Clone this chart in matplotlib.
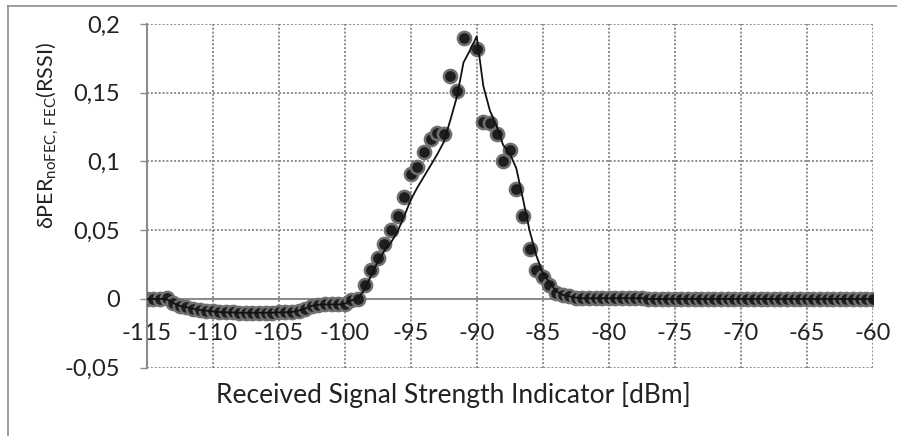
import numpy as np
import matplotlib
matplotlib.use("Agg")
import matplotlib.pyplot as plt
from matplotlib.lines import Line2D

plt.rcParams['font.family'] = ['Lato', 'DejaVu Sans']

# measured points, 0.5 dBm steps from -115 to -60
rssi = np.arange(-115, -59.99, 0.5)
dper = [0.0, 0.0, 0.0, 0.0005, -0.003, -0.005, -0.006, -0.007, -0.008, -0.0085,
        -0.009, -0.0095, -0.0097, -0.0098, -0.01, -0.01, -0.01, -0.01, -0.01, -0.01,
        -0.0098, -0.0097, -0.0095, -0.0085, -0.007, -0.005, -0.0042, -0.004, -0.004, -0.004,
        -0.0035, -0.001,
        0.0, 0.010, 0.021, 0.030, 0.040, 0.050, 0.060, 0.074, 0.091, 0.096,
        0.107, 0.116, 0.121, 0.120, 0.162, 0.151, 0.190, np.nan, 0.182, 0.129,
        0.128, 0.120, 0.100, 0.108, 0.080, 0.060, 0.036, 0.021, 0.016, 0.010,
        0.004, 0.003, 0.002, 0.001] + [0.0005] * 10 + [0.0] * 35

# smoothed trend line, same x grid
trend = [0.0, 0.0, 0.0, 0.0, -0.003, -0.005, -0.006, -0.007, -0.008, -0.0085,
         -0.009, -0.0095, -0.0097, -0.0098, -0.01, -0.01, -0.01, -0.01, -0.01, -0.01,
         -0.0098, -0.0097, -0.0095, -0.0085, -0.007, -0.005, -0.0042, -0.004, -0.004, -0.004,
         -0.0035, -0.001,
         0.0, 0.007, 0.017, 0.027, 0.035, 0.041, 0.049, 0.060, 0.072, 0.081,
         0.089, 0.097, 0.105, 0.114, 0.130, 0.147, 0.172, 0.181, 0.191, 0.155,
         0.137, 0.126, 0.112, 0.106, 0.095, 0.073, 0.050, 0.032, 0.019, 0.012,
         0.006, 0.003, 0.002, 0.001] + [0.0005] * 10 + [0.0] * 35

xticks = list(range(-115, -59, 5))
yticks = [-0.05, 0, 0.05, 0.1, 0.15, 0.2]
ytick_labels = ['-0,05', '0', '0,05', '0,1', '0,15', '0,2']

fig = plt.figure(figsize=(8.97, 4.36), dpi=100)
ax = fig.add_axes([146.7 / 897, 1 - 367.7 / 436, (872.7 - 146.7) / 897, (367.7 - 24) / 436])

ax.plot(rssi, dper, 'o', ms=9.5, mfc='#1e1e1e', mec='#707070', mew=1.8, zorder=3)
ax.plot(rssi, trend, '-', color='#111111', lw=1.3, zorder=4)

ax.set_xlim(-115, -60)
ax.set_ylim(-0.05, 0.2)
ax.set_xticks(xticks)
ax.set_xticklabels([str(t) for t in xticks])
ax.set_yticks(yticks)
ax.set_yticklabels(ytick_labels)

ax.grid(True, color='#8c8c8c', linestyle=(0, (1, 1)), linewidth=1.4)
ax.set_axisbelow(True)
for s in ['top', 'right']:
    ax.spines[s].set_visible(False)
ax.spines['bottom'].set_position(('data', 0))
ax.spines['left'].set_color('#8c8c8c')
ax.spines['bottom'].set_color('#8c8c8c')
ax.spines['left'].set_linewidth(1.5)
ax.spines['bottom'].set_linewidth(1.5)

ax.tick_params(axis='y', direction='out', length=5, width=1, color='#8c8c8c', pad=14,
               labelsize=17, labelcolor='#222222')
ax.tick_params(axis='x', direction='out', length=0, pad=17,
               labelsize=17, labelcolor='#222222')

ax.set_xlabel('Received Signal Strength Indicator [dBm]', fontsize=19, color='#222222', va='center')
ax.xaxis.set_label_coords(0.4226, -0.079)
ax.set_ylabel(r'δPER$_{\mathregular{noFEC,\,FEC}}$(RSSI)', fontsize=15.5, color='#222222', va='center')
ax.yaxis.set_label_coords(-0.136, 0.677)

# outer chart border (top and left)
fig.add_artist(Line2D([8 / 897, 1], [1 - 6 / 436, 1 - 6 / 436], color='#8c8c8c', lw=1.2))
fig.add_artist(Line2D([8 / 897, 8 / 897], [0, 1 - 6 / 436], color='#8c8c8c', lw=1.2))

fig.savefig('out.png', dpi=100)
